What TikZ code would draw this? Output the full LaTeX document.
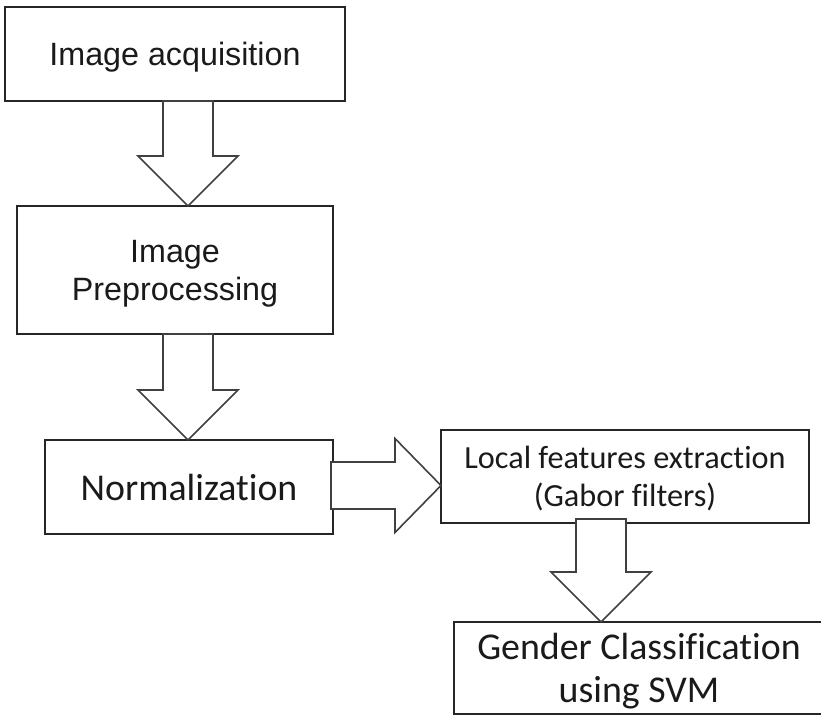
\documentclass[tikz,border=0pt]{standalone}
\usepackage{fontspec}
\setmainfont{Liberation Sans}
\newfontfamily\calibri[Ligatures=NoCommon]{Carlito}
\usetikzlibrary{calc}
\definecolor{linegray}{HTML}{262626}
\definecolor{arrowgray}{HTML}{404040}
\definecolor{textgray}{HTML}{1A1A1A}

\newcommand{\downblock}[3]{%
\draw[blockarrow] let \p1=($(#1.south)+(#3)$), \p2=(#2.north) in
  (\x1-18.75pt,\y1) -- (\x1-18.75pt,\y2+37.5pt) -- (\x1-37.5pt,\y2+37.5pt) -- (\x1,\y2)
  -- (\x1+37.5pt,\y2+37.5pt) -- (\x1+18.75pt,\y2+37.5pt) -- (\x1+18.75pt,\y1) -- cycle;}
\newcommand{\rightblock}[3]{%
\draw[blockarrow] let \p1=($(#1.east)+(#3)$), \p2=(#2.west) in
  (\x1,\y1+17.6pt) -- (\x2-34.5pt,\y1+17.6pt) -- (\x2-34.5pt,\y1+35.25pt) -- (\x2,\y1)
  -- (\x2-34.5pt,\y1-35.25pt) -- (\x2-34.5pt,\y1-17.6pt) -- (\x1,\y1-17.6pt) -- cycle;}

\begin{document}
\begin{tikzpicture}[x=0.75pt,y=-0.75pt,
  box/.style={draw=linegray,line width=1.3pt,inner sep=0pt,outer sep=0pt,align=center,text depth=0pt,text=textgray},
  arialtext/.style={font=\fontsize{24.2}{28.5}\selectfont},
  calsmall/.style={font=\calibri\fontsize{24.2}{28.5}\selectfont},
  calbig/.style={font=\calibri\fontsize{28.4}{32.25}\selectfont},
  blockarrow/.style={draw=arrowgray,line width=1.2pt,fill=white,line join=miter}]
\useasboundingbox (0,0) rectangle (821,714);
\clip (0,0) rectangle (821,714);
\node[box,arialtext,minimum width=255pt,minimum height=70.5pt] (acq) at (175,54) {Image acquisition};
\node[box,arialtext,minimum width=237pt,minimum height=96pt] (prep) at (175,270) {Image\\Preprocessing};
\node[box,calbig,minimum width=216pt,minimum height=70.5pt] (norm) at (189,487) {Normalization};
\node[box,calsmall,minimum width=276pt,minimum height=69.75pt] (feat) at (625,476.5) {Local features extraction\\(Gabor filters)};
\node[box,calbig,minimum width=277.5pt,minimum height=69pt] (svm) at (639,668) {Gender Classification\\using SVM};
\downblock{acq}{prep}{13,0}
\downblock{prep}{norm}{13,0}
\rightblock{norm}{feat}{-2,-1.5}
\downblock{feat}{svm}{-24,-4}
\end{tikzpicture}
\end{document}
